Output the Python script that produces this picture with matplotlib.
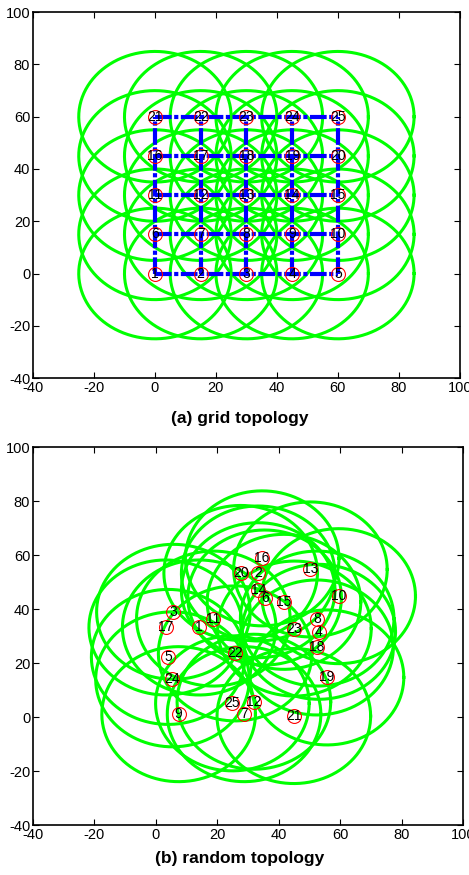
import matplotlib
matplotlib.use("Agg")
import matplotlib.pyplot as plt
import numpy as np

plt.rcParams['font.family'] = ['Liberation Sans', 'DejaVu Sans']
plt.rcParams['axes.unicode_minus'] = False

# grid topology: 5x5 nodes, 15 apart
grid_x = [0, 15, 30, 45, 60]
grid_y = [0, 15, 30, 45, 60]

# random topology node positions, node 1..25
rand_x = [14.1, 33.3, 5.7, 53.0, 4.0, 35.4, 28.7, 52.5, 7.4, 59.5,
          18.7, 31.9, 50.3, 33.3, 41.7, 34.6, 3.2, 52.3, 55.7, 27.6,
          44.9, 25.8, 45.1, 5.4, 24.9]
rand_y = [33.2, 53.2, 39.0, 31.6, 22.3, 44.3, 1.1, 36.5, 1.1, 44.8,
          36.5, 5.7, 54.7, 47.0, 42.7, 58.8, 33.2, 25.8, 14.7, 53.4,
          0.4, 23.6, 32.8, 14.0, 5.1]

radius = 25
xticks = [-40, -20, 0, 20, 40, 60, 80, 100]
yticks = [-40, -20, 0, 20, 40, 60, 80, 100]

green = (0, 1, 0)
th = np.linspace(0, 2 * np.pi, 300)


def setup_axes(ax):
    ax.set_xlim(-40, 100)
    ax.set_ylim(-40, 100)
    ax.set_xticks(xticks)
    ax.set_yticks(yticks)
    ax.tick_params(direction='in', top=True, right=True, length=4,
                   labelsize=10.5, width=0.8, pad=2)
    for s in ax.spines.values():
        s.set_linewidth(1.2)


def draw_nodes(ax, xs, ys):
    # coverage circles
    for x, y in zip(xs, ys):
        ax.plot(x + radius * np.cos(th), y + radius * np.sin(th),
                color=green, lw=2.2, zorder=1)


def draw_labels(ax, xs, ys):
    ax.plot(xs, ys, 'o', ms=10, mfc='none', mec='red', mew=0.8, zorder=4)
    for i, (x, y) in enumerate(zip(xs, ys)):
        ax.text(x, y, str(i + 1), ha='center', va='center', fontsize=10,
                color='black', zorder=5)


fig = plt.figure(figsize=(4.69, 8.75), dpi=100)

# (a) grid topology
ax1 = fig.add_axes([0.0704, 0.568, 0.910, 0.418])
gx, gy = np.meshgrid(grid_x, grid_y)
gx = gx.ravel()
gy = gy.ravel()
draw_nodes(ax1, gx, gy)
for y in grid_y:
    ax1.plot([grid_x[0], grid_x[-1]], [y, y], color='b', lw=3,
             dashes=[4, 0.6, 1, 0.6], zorder=2)
for x in grid_x:
    ax1.plot([x, x], [grid_y[0], grid_y[-1]], color='b', lw=3,
             dashes=[4, 0.6, 1, 0.6], zorder=2)
draw_labels(ax1, gx, gy)
setup_axes(ax1)
fig.text(0.512, 0.522, '(a) grid topology', ha='center', va='center',
         fontsize=12.5, fontweight='bold')

# (b) random topology
ax2 = fig.add_axes([0.0704, 0.057, 0.917, 0.432])
draw_nodes(ax2, rand_x, rand_y)
draw_labels(ax2, rand_x, rand_y)
setup_axes(ax2)
fig.text(0.51, 0.019, '(b) random topology', ha='center', va='center',
         fontsize=12.5, fontweight='bold')

fig.savefig('out.png', dpi=100)
